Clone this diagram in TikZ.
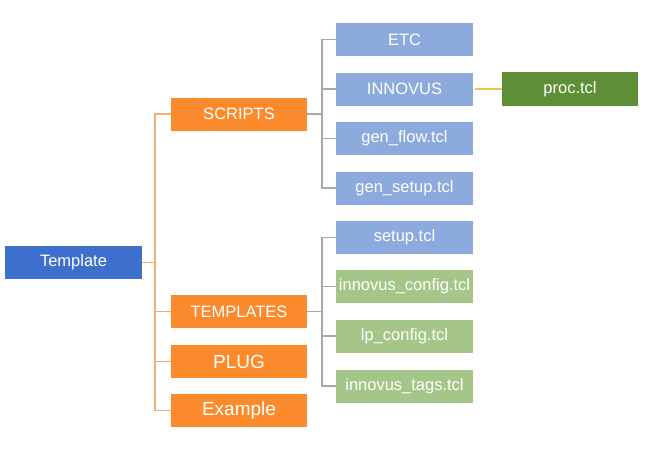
\documentclass[tikz,border=0pt]{standalone}
\usepackage{fontspec}
\setmainfont{Liberation Sans}
\definecolor{cTop}{HTML}{3C70CC}
\definecolor{cOrange}{HTML}{FA8A2C}
\definecolor{cLBlue}{HTML}{8DAADF}
\definecolor{cLGreen}{HTML}{A5C688}
\definecolor{cDGreen}{HTML}{5E8F36}
\definecolor{cOLine}{HTML}{F3AE78}
\definecolor{cGLine}{HTML}{A8A8A8}
\definecolor{cYLine}{HTML}{F2C443}
\begin{document}
\begin{tikzpicture}[x=1pt,y=-1pt,
  box/.style={minimum width=137pt,minimum height=33pt,inner sep=0pt,text=white,
    font=\fontsize{16.5}{18}\selectfont},
  topbox/.style={box,fill=cTop},
  obox/.style={box,fill=cOrange,minimum width=136pt},
  bigobox/.style={obox,font=\fontsize{19}{21}\selectfont},
  bbox/.style={box,fill=cLBlue},
  gbox/.style={box,fill=cLGreen},
  dbox/.style={box,fill=cDGreen,minimum width=136pt,minimum height=34pt},
  oline/.style={draw=cOLine,line width=1.4pt},
  gline/.style={draw=cGLine,line width=1.4pt},
  yline/.style={draw=cYLine,line width=1.4pt}]
\useasboundingbox (0,0) rectangle (669,448);
\fill[white] (0,0) rectangle (669,448);
% nodes
\node[topbox] (tpl) at (73.5,262.5) {Template};
\node[obox] (scr) at (239,114) {SCRIPTS};
\node[obox] (tmp) at (239,311.5) {TEMPLATES};
\node[bigobox] (plug) at (239,361.5) {PLUG};
\node[bigobox] (ex) at (239,410.5) {Example};
\node[bbox] (etc) at (404.5,39.5) {ETC};
\node[bbox] (inn) at (404.5,89) {INNOVUS};
\node[bbox] (gf) at (404.5,138.5) {gen\_flow.tcl};
\node[bbox] (gs) at (404.5,188) {gen\_setup.tcl};
\node[dbox] (proc) at (570,89) {proc.tcl};
\node[bbox] (setup) at (404.5,237.5) {setup.tcl};
\node[gbox] (icfg) at (404.5,286.5) {innovus\_config.tcl};
\node[gbox] (lp) at (404.5,336) {lp\_config.tcl};
\node[gbox] (itag) at (404.5,386) {innovus\_tags.tcl};
% trunk coordinates
\coordinate (ot) at (155,262.5);
\coordinate (st) at (322,114);
\coordinate (tt) at (322,311.5);
% orange connectors
\draw[oline] (tpl.east) -- (ot);
\draw[oline] (scr.west) -| (ot);
\draw[oline] (ex.west) -| (ot);
\draw[oline] (tmp.west) -- (tmp.west -| ot);
\draw[oline] (plug.west) -- (plug.west -| ot);
% grey connectors scripts
\draw[gline] (scr.east) -- (st);
\draw[gline] (etc.west) -| (st);
\draw[gline] (gs.west) -| (st);
\draw[gline] (inn.west) -- (inn.west -| st);
\draw[gline] (gf.west) -- (gf.west -| st);
% grey connectors templates
\draw[gline] (tmp.east) -- (tt);
\draw[gline] (setup.west) -| (tt);
\draw[gline] (itag.west) -| (tt);
\draw[gline] (icfg.west) -- (icfg.west -| tt);
\draw[gline] (lp.west) -- (lp.west -| tt);
% yellow
\draw[yline] ([xshift=2pt]inn.east) -- (proc.west);
\end{tikzpicture}
\end{document}
